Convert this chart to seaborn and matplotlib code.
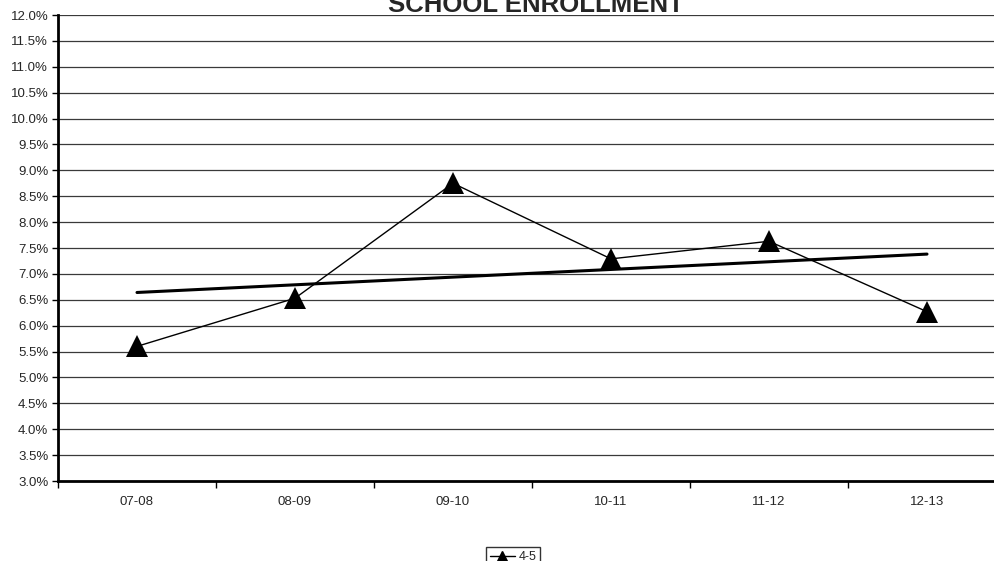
import numpy as np
import pandas as pd
import matplotlib
matplotlib.use("Agg")
import matplotlib.pyplot as plt
from matplotlib.lines import Line2D
import seaborn as sns

# School enrollment share by school year
years = ["07-08", "08-09", "09-10", "10-11", "11-12", "12-13"]
share_4_5 = [5.60, 6.53, 8.75, 7.29, 7.63, 6.27]
series_name = "4-5"
title = "SCHOOL ENROLLMENT"
y_ticks = [3.0 + 0.5 * i for i in range(19)]

sns.set_theme(style="white")
plt.rcParams["font.family"] = ["Liberation Sans", "DejaVu Sans"]

df = pd.DataFrame({"year": years, "pos": np.arange(len(years)), "share": share_4_5})

fig = plt.figure(figsize=(9.95, 5.61), dpi=100)
ax = fig.add_axes([58 / 995, 1 - 481 / 561, 948 / 995, 466 / 561])

# horizontal gridlines
for v in y_ticks[1:]:
    ax.axhline(v, color="#3a3a3a", lw=0.9, zorder=1)

sns.lineplot(data=df, x="pos", y="share", ax=ax, color="black", lw=1.0,
             marker="^", markersize=16, markeredgewidth=0, zorder=3,
             legend=False)

# linear trend line
k, b = np.polyfit(df["pos"], df["share"], 1)
ax.plot(df["pos"], k * df["pos"] + b, color="black", lw=2.2, zorder=2)

ax.set_xlim(-0.5, len(years) - 0.5)
ax.set_ylim(3.0, 12.0)
ax.set_yticks(y_ticks)
ax.set_yticklabels([f"{v:.1f}%" for v in y_ticks])
ax.set_xticks(df["pos"])
ax.set_xticklabels(years)
ax.set_xticks(np.arange(-0.5, len(years)), minor=True)
ax.tick_params(axis="x", which="major", length=0, pad=11, labelsize=9.5)
ax.tick_params(axis="x", which="minor", length=5, width=1, color="black",
               direction="out", bottom=True)
ax.tick_params(axis="y", length=4, width=1, color="black", direction="out",
               left=True, labelsize=9.5, pad=3)
ax.set_xlabel("")
ax.set_ylabel("")

for side in ["top", "right"]:
    ax.spines[side].set_visible(False)
for side in ["left", "bottom"]:
    ax.spines[side].set_color("black")
    ax.spines[side].set_linewidth(2)

fig.text(536 / 995, 1 - 12 / 561, title, ha="center", va="baseline",
         fontsize=18.5, fontweight="bold")

handle = Line2D([], [], color="black", lw=1, marker="^", markersize=7)
leg = fig.legend([handle], [series_name], loc="upper center",
                 bbox_to_anchor=(513 / 995, 1 - 541 / 561), frameon=True,
                 fontsize=9, handlelength=2.0, handletextpad=0.3,
                 borderpad=0.3, fancybox=False)
leg.get_frame().set_edgecolor("black")
leg.get_frame().set_linewidth(1)

fig.savefig("out.png", dpi=100)
